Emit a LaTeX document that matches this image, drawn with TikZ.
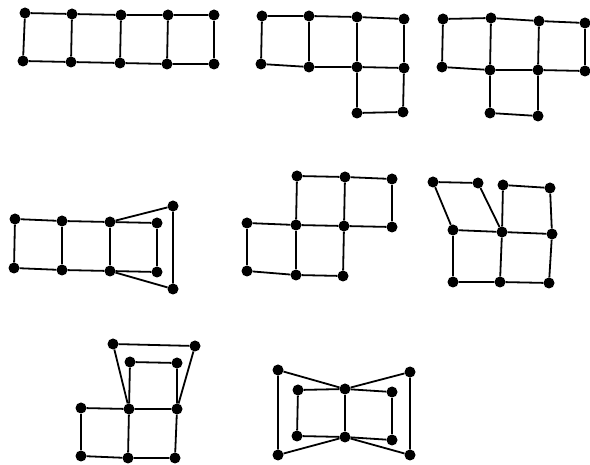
\documentclass[tikz,border=0pt]{standalone}
\begin{document}
\begin{tikzpicture}[x=1pt,y=-1pt,
  vtx/.style={circle,fill=black,inner sep=0pt,minimum size=11pt},
  edge/.style={line width=1.8pt,black}]
\useasboundingbox (0,0) rectangle (590,465);
% ---------- Graph 1 ----------
\node[vtx] (a1) at (25,13) {};
\node[vtx] (a2) at (72,14) {};
\node[vtx] (a3) at (121,15) {};
\node[vtx] (a4) at (168,15) {};
\node[vtx] (a5) at (214,15) {};
\node[vtx] (b1) at (23,61) {};
\node[vtx] (b2) at (71,62) {};
\node[vtx] (b3) at (120,63) {};
\node[vtx] (b4) at (167,64) {};
\node[vtx] (b5) at (214,64) {};
\draw[edge] (a1)--(a2)--(a3)--(a4)--(a5);
\draw[edge] (b1)--(b2)--(b3)--(b4)--(b5);
\foreach \i in {1,...,5} \draw[edge] (a\i)--(b\i);
% ---------- Graph 2 ----------
\node[vtx] (c1) at (262,16) {};
\node[vtx] (c2) at (309,16) {};
\node[vtx] (c3) at (357,17) {};
\node[vtx] (c4) at (404,19) {};
\node[vtx] (d1) at (261,64) {};
\node[vtx] (d2) at (309,67) {};
\node[vtx] (d3) at (357,67) {};
\node[vtx] (d4) at (404,68) {};
\node[vtx] (e3) at (357,113) {};
\node[vtx] (e4) at (403,112) {};
\draw[edge] (c1)--(c2)--(c3)--(c4);
\draw[edge] (d1)--(d2)--(d3)--(d4);
\foreach \i in {1,...,4} \draw[edge] (c\i)--(d\i);
\draw[edge] (d3)--(e3)--(e4)--(d4);
% ---------- Graph 3 ----------
\node[vtx] (f1) at (443,19) {};
\node[vtx] (f2) at (491,18) {};
\node[vtx] (f3) at (539,21) {};
\node[vtx] (f4) at (585,23) {};
\node[vtx] (g1) at (442,67) {};
\node[vtx] (g2) at (490,70) {};
\node[vtx] (g3) at (538,70) {};
\node[vtx] (g4) at (585,71) {};
\node[vtx] (h2) at (490,113) {};
\node[vtx] (h3) at (538,116) {};
\draw[edge] (f1)--(f2)--(f3)--(f4);
\draw[edge] (g1)--(g2)--(g3)--(g4);
\foreach \i in {1,...,4} \draw[edge] (f\i)--(g\i);
\draw[edge] (g2)--(h2)--(h3)--(g3);
% ---------- Graph 4 ----------
\node[vtx] (i1) at (15,219) {};
\node[vtx] (i2) at (62,221) {};
\node[vtx] (i3) at (110,222) {};
\node[vtx] (i4) at (157,223) {};
\node[vtx] (i5) at (173,206) {};
\node[vtx] (j1) at (14,268) {};
\node[vtx] (j2) at (62,270) {};
\node[vtx] (j3) at (110,271) {};
\node[vtx] (j4) at (157,272) {};
\node[vtx] (j5) at (173,289) {};
\draw[edge] (i1)--(i2)--(i3)--(i4);
\draw[edge] (j1)--(j2)--(j3)--(j4);
\foreach \i in {1,...,4} \draw[edge] (i\i)--(j\i);
\draw[edge] (i3)--(i5)--(j5)--(j3);
% ---------- Graph 5 ----------
\node[vtx] (k2) at (297,176) {};
\node[vtx] (k3) at (345,177) {};
\node[vtx] (k4) at (392,179) {};
\node[vtx] (l1) at (247,223) {};
\node[vtx] (l2) at (296,225) {};
\node[vtx] (l3) at (344,226) {};
\node[vtx] (l4) at (392,227) {};
\node[vtx] (m1) at (247,271) {};
\node[vtx] (m2) at (296,275) {};
\node[vtx] (m3) at (343,276) {};
\draw[edge] (k2)--(k3)--(k4);
\draw[edge] (l1)--(l2)--(l3)--(l4);
\draw[edge] (m1)--(m2)--(m3);
\foreach \i in {2,3,4} \draw[edge] (k\i)--(l\i);
\foreach \i in {1,2,3} \draw[edge] (l\i)--(m\i);
% ---------- Graph 6 ----------
\node[vtx] (n1) at (433,182) {};
\node[vtx] (n2) at (478,183) {};
\node[vtx] (n3) at (503,185) {};
\node[vtx] (n4) at (550,188) {};
\node[vtx] (o1) at (453,230) {};
\node[vtx] (o2) at (502,232) {};
\node[vtx] (o3) at (552,234) {};
\node[vtx] (p1) at (453,282) {};
\node[vtx] (p2) at (500,282) {};
\node[vtx] (p3) at (549,283) {};
\draw[edge] (o1)--(n1)--(n2)--(o2);
\draw[edge] (o2)--(n3)--(n4)--(o3);
\draw[edge] (o1)--(o2)--(o3);
\draw[edge] (p1)--(p2)--(p3);
\foreach \i in {1,2,3} \draw[edge] (o\i)--(p\i);
% ---------- Graph 7 ----------
\node[vtx] (q1) at (113,344) {};
\node[vtx] (q2) at (195,346) {};
\node[vtx] (q3) at (130,362) {};
\node[vtx] (q4) at (177,363) {};
\node[vtx] (r1) at (81,408) {};
\node[vtx] (r2) at (129,409) {};
\node[vtx] (r3) at (177,409) {};
\node[vtx] (s1) at (81,456) {};
\node[vtx] (s2) at (128,458) {};
\node[vtx] (s3) at (175,458) {};
\draw[edge] (r2)--(q1)--(q2)--(r3);
\draw[edge] (r2)--(q3)--(q4)--(r3);
\draw[edge] (r1)--(r2)--(r3);
\draw[edge] (s1)--(s2)--(s3);
\foreach \i in {1,2,3} \draw[edge] (r\i)--(s\i);
% ---------- Graph 8 ----------
\node[vtx] (t1) at (278,370) {};
\node[vtx] (t2) at (410,372) {};
\node[vtx] (t3) at (278,455) {};
\node[vtx] (t4) at (410,455) {};
\node[vtx] (u1) at (298,390) {};
\node[vtx] (u2) at (345,389) {};
\node[vtx] (u3) at (392,392) {};
\node[vtx] (w1) at (297,436) {};
\node[vtx] (w2) at (345,437) {};
\node[vtx] (w3) at (392,440) {};
\draw[edge] (t1)--(u2)--(t2)--(t4)--(w2)--(t3)--(t1);
\draw[edge] (u1)--(u2)--(u3);
\draw[edge] (w1)--(w2)--(w3);
\foreach \i in {1,2,3} \draw[edge] (u\i)--(w\i);
\end{tikzpicture}
\end{document}
